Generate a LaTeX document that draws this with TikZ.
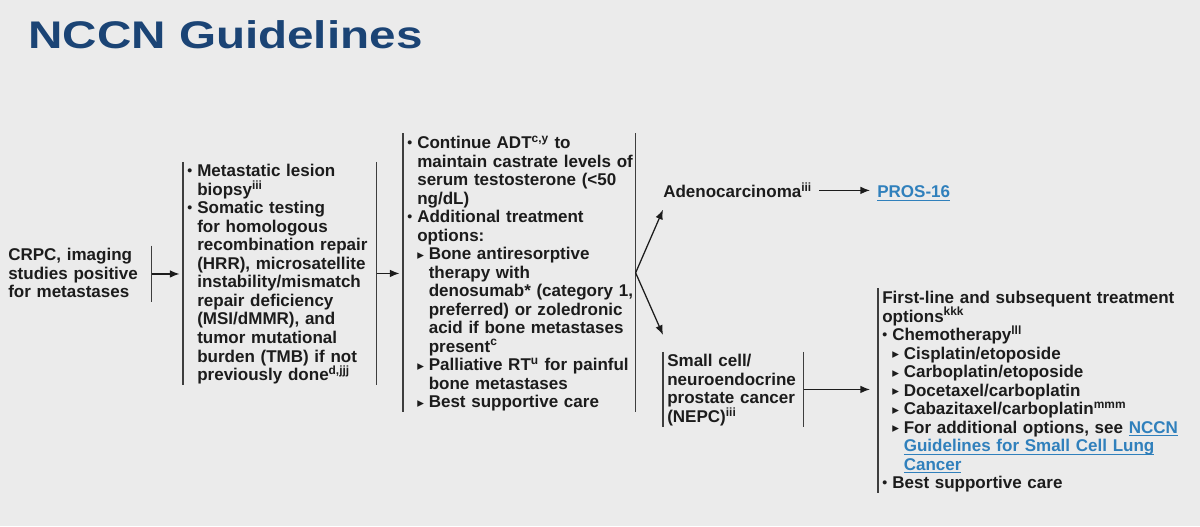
\documentclass[tikz,border=0pt]{standalone}
\usepackage{fontspec}
\usepackage{graphicx}
\setmainfont{Liberation Sans}
\newfontfamily\symf{DejaVu Sans}
\usetikzlibrary{arrows.meta,calc}
\definecolor{bgc}{RGB}{235,235,235}
\definecolor{titleblue}{RGB}{27,68,117}
\definecolor{ink}{RGB}{28,28,28}
\definecolor{barc}{RGB}{62,62,62}
\definecolor{linkblue}{RGB}{48,128,188}
\newlength\pxl \setlength\pxl{0.025cm}
\newcommand\bodyfont{\fontsize{12.1}{13.16}\selectfont\bfseries\lineskiplimit=-20pt\relax}
% list marks
\newcommand\itb{\makebox[10\pxl][l]{{\fontsize{10}{10}\selectfont\raisebox{0.8pt}{•}}}}
\newcommand\itc{\hspace*{10\pxl}}
\newcommand\subt{\makebox[11.5\pxl][l]{{\symf\fontsize{9.5}{9.5}\selectfont\raisebox{0.4pt}{▸}}}}
\newcommand\subc{\hspace*{21.5\pxl}}
\newcommand\lnk[1]{\textcolor{linkblue}{\setbox0\hbox{#1}\rlap{\rule[-2.2pt]{\wd0}{0.8pt}}\box0}}
\tikzset{
  >={Latex[length=2.4mm,width=1.9mm]},
  box/.style={font=\bodyfont,text=ink,align=left,text width=#1,
    inner xsep=1mm,inner ysep=0pt,anchor=north west,
    execute at begin node={\rightskip=-12pt plus 1fil\rule{0pt}{10.5pt}},
    execute at end node={\rule[-3pt]{0pt}{3pt}}},
  word/.style={font=\bodyfont,text=ink,inner xsep=1.75mm,inner ysep=0pt,anchor=base west},
  head/.style={font=\fontsize{27.4}{30}\selectfont\bfseries,text=titleblue,inner sep=0pt,anchor=base west},
  bar/.style={line width=1.2pt,draw=barc},
  flow/.style={->,line width=0.9pt,draw=ink},
}
\begin{document}
\begin{tikzpicture}[x=0.025cm,y=0.025cm]
  \fill[bgc] (0,0) rectangle (1200,526);
  \useasboundingbox (0,0) rectangle (1200,526);
  \node[head] (title) at (28,477.7) {\scalebox{1.236}[1]{NCCN Guidelines}};
  % columns
  \node[box=3.475cm] (crpc) at (4,280.3) {CRPC, imaging\\studies positive\\for metastases};
  \node[box=4.625cm] (hrr) at (183,364.1) {\itb Metastatic lesion\\
    \itc biopsy\textsuperscript{iii}\\
    \itb Somatic testing\\
    \itc for homologous\\
    \itc recombination repair\\
    \itc (HRR), microsatellite\\
    \itc instability/mismatch\\
    \itc repair deficiency\\
    \itc (MSI/dMMR), and\\
    \itc tumor mutational\\
    \itc burden (TMB) if not\\
    \itc previously done\textsuperscript{d,jjj}};
  \node[box=5.6cm] (adt) at (403,392.5) {\itb Continue ADT\textsuperscript{c,y} to\\
    \itc maintain castrate levels of\\
    \itc serum testosterone (<50\\
    \itc ng/dL)\\
    \itb Additional treatment\\
    \itc options:\\
    \itc\subt Bone antiresorptive\\
    \subc therapy with\\
    \subc denosumab* (category 1,\\
    \subc preferred) or zoledronic\\
    \subc acid if bone metastases\\
    \subc present\textsuperscript{c}\\
    \itc\subt Palliative RT\textsuperscript{u} for painful\\
    \subc bone metastases\\
    \itc\subt Best supportive care};
  \node[word] (adeno) at (656,328.3) {Adenocarcinoma\textsuperscript{iii}};
  \node[word] (pros) at (870,328.3) {\lnk{PROS-16}};
  \node[box=3.3cm] (nepc) at (663,174.1) {Small cell/\\neuroendocrine\\prostate cancer\\(NEPC)\textsuperscript{iii}};
  \node[box=7.5cm] (first) at (878,237.5) {First-line and subsequent treatment\\
    options\textsuperscript{kkk}\\
    \itb Chemotherapy\textsuperscript{lll}\\
    \itc\subt Cisplatin/etoposide\\
    \itc\subt Carboplatin/etoposide\\
    \itc\subt Docetaxel/carboplatin\\
    \itc\subt Cabazitaxel/carboplatin\textsuperscript{mmm}\\
    \itc\subt For additional options, see \lnk{NCCN}\\
    \subc\lnk{Guidelines for Small Cell Lung}\\
    \subc\lnk{Cancer}\\
    \itb Best supportive care};
  % bars
  \draw[bar] (crpc.north east) -- (crpc.south east);
  \draw[bar] (hrr.north west) -- (hrr.south west) (hrr.north east) -- (hrr.south east);
  \draw[bar] (adt.north west) -- (adt.south west) (adt.north east) -- (adt.south east);
  \draw[bar] (nepc.north west) -- (nepc.south west) (nepc.north east) -- (nepc.south east);
  \draw[bar] (first.north west) -- (first.south west);
  % arrows
  \coordinate (adin) at ($(adeno.base west)+(7,-12)$);
  \coordinate (nepcin) at ($(nepc.north west)+(0,17)$);
  \draw[flow,shorten >=2.5pt] (crpc.east) -- (crpc.east -| hrr.west);
  \draw[flow,shorten >=2.5pt] (hrr.east) -- (hrr.east -| adt.west);
  \draw[flow] (adt.east) -- (adin);
  \draw[flow] (adt.east) -- (nepcin);
  \draw[flow] (adeno.east) -- (adeno.east -| pros.west);
  \draw[flow,shorten >=8\pxl] (nepc.east) -- (nepc.east -| first.west);
\end{tikzpicture}
\end{document}
